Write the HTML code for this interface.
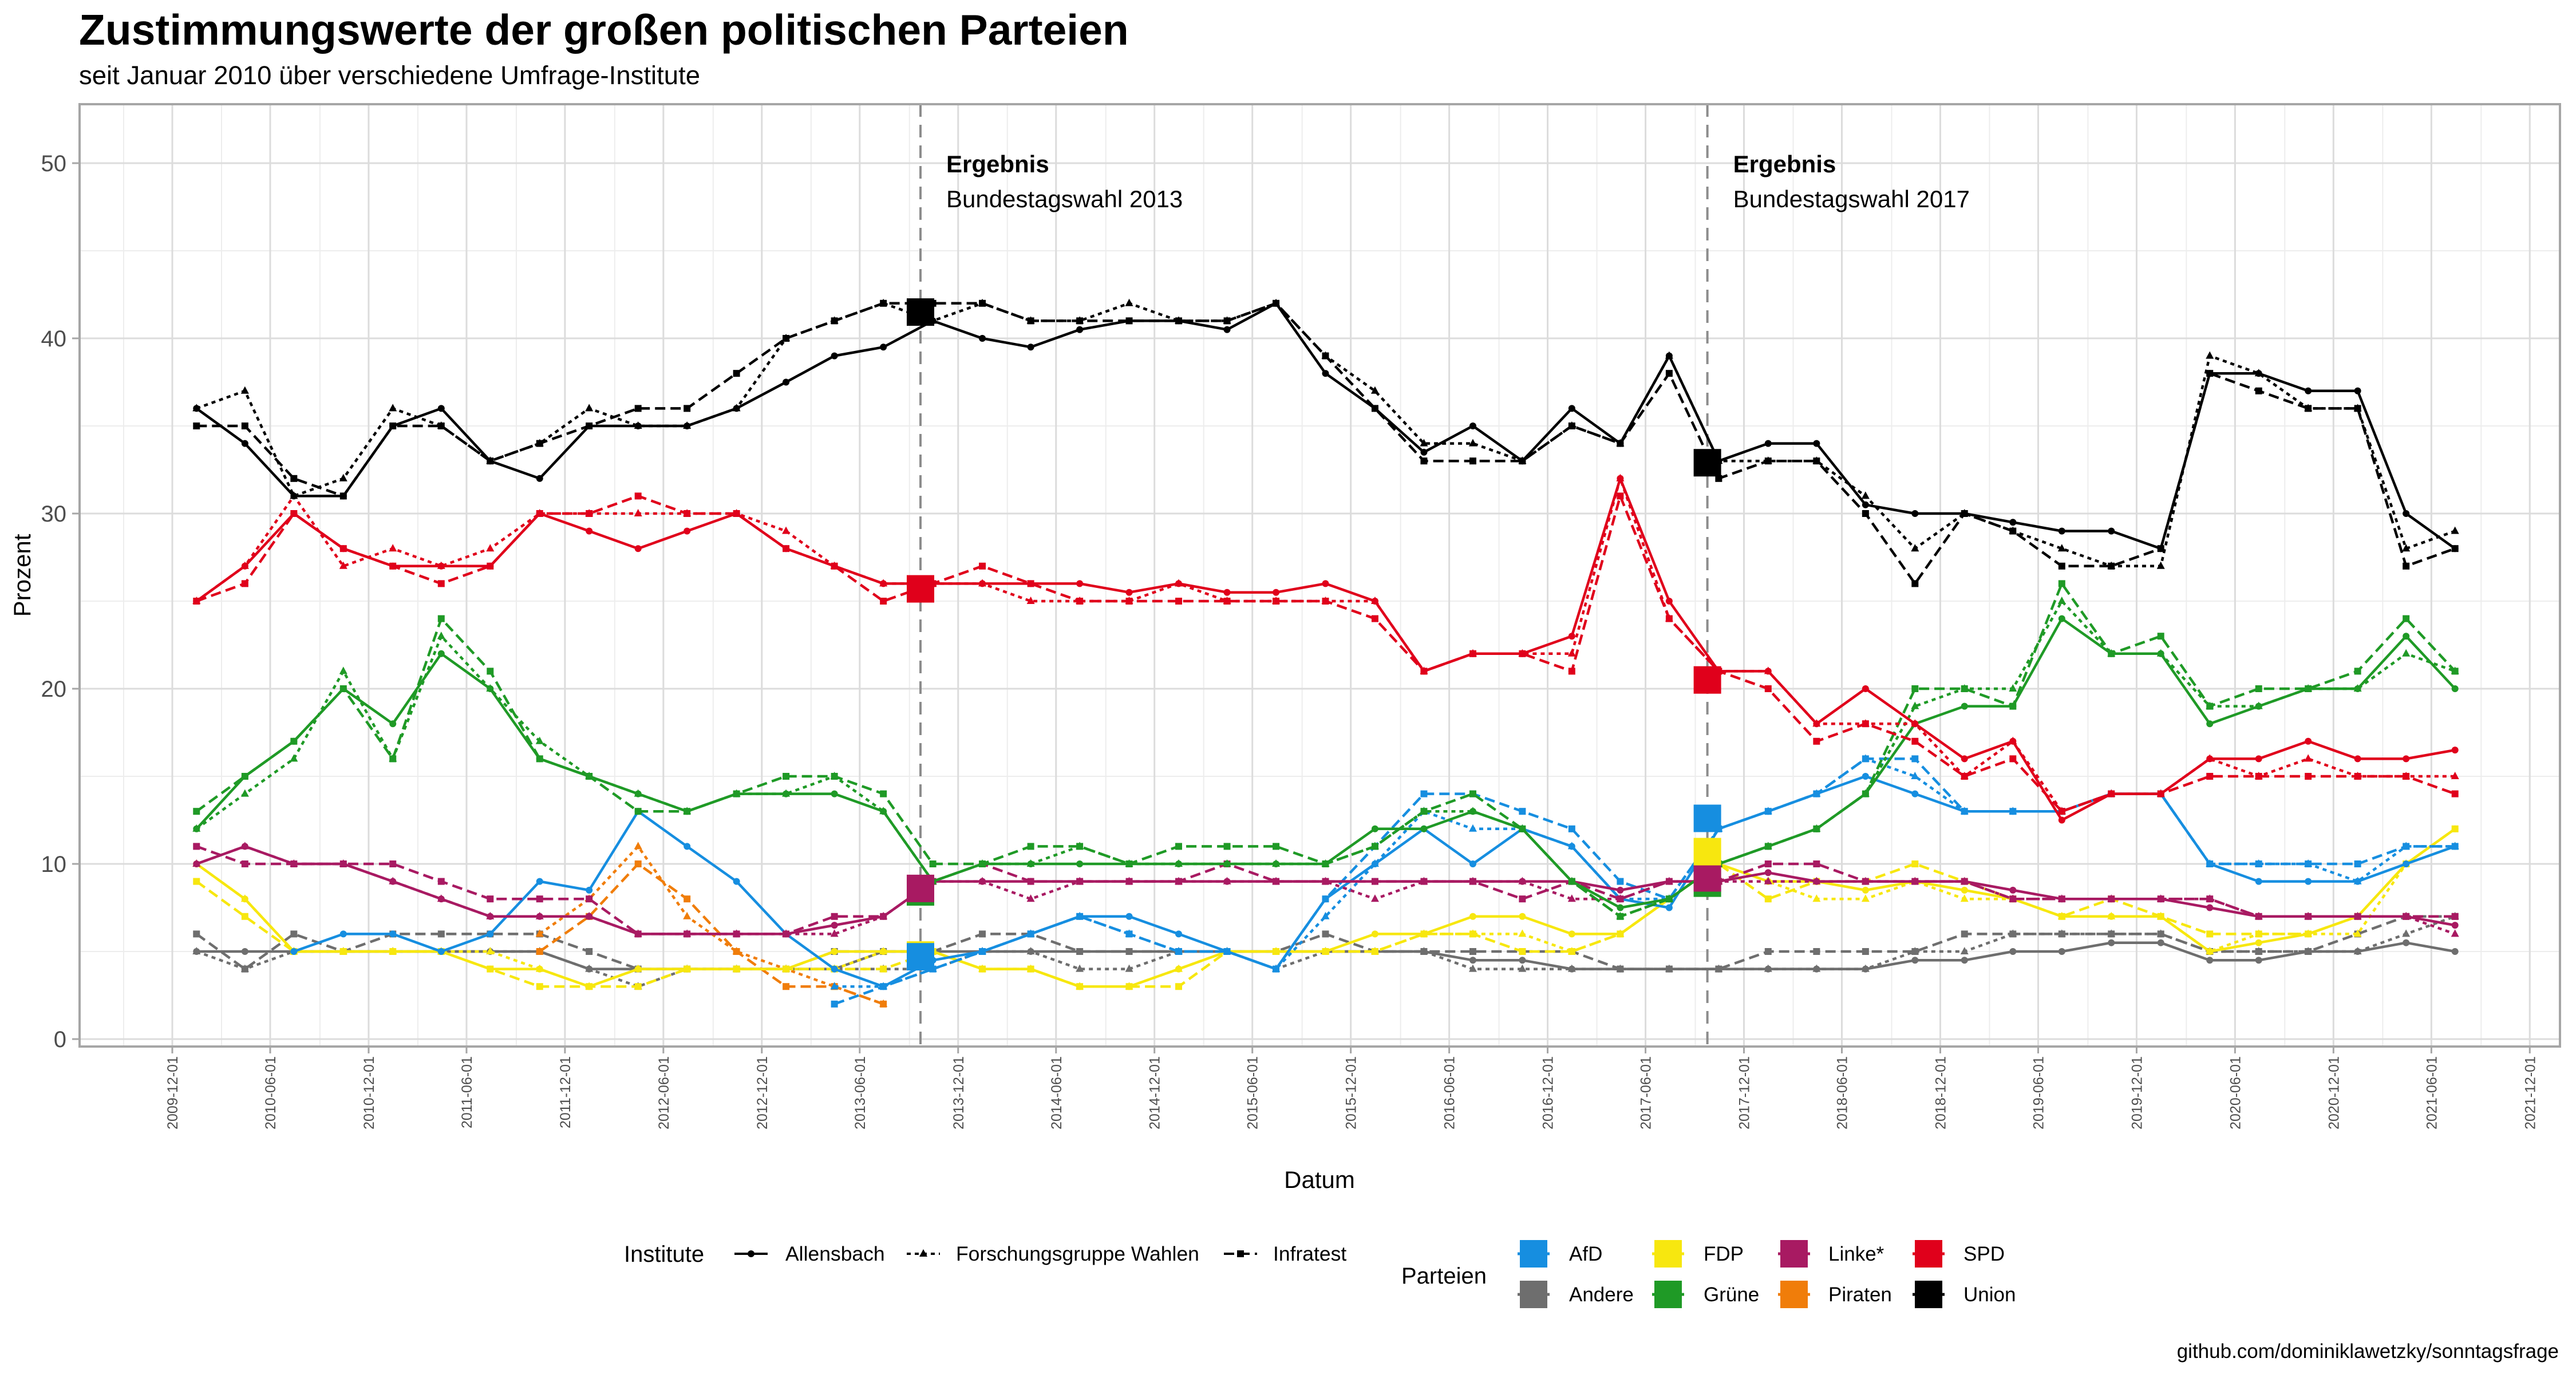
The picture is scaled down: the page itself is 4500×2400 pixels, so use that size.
<!DOCTYPE html>
<html><head><meta charset="utf-8"><style>
html,body{margin:0;padding:0;background:#fff}
svg{display:block;font-family:"Liberation Sans",Arial,sans-serif}
</style></head><body>
<svg id="chart" width="4500" height="2400" viewBox="0 0 4500 2400" xmlns="http://www.w3.org/2000/svg">
<text x="138" y="78" font-size="75" font-weight="bold">Zustimmungswerte der großen politischen Parteien</text>
<text x="138" y="147" font-size="45.5">seit Januar 2010 über verschiedene Umfrage-Institute</text>
<g id="grid"></g>
<g id="series"></g>
<g id="axes"></g>
<text x="2305" y="2075" font-size="42" text-anchor="middle">Datum</text>
<text x="0" y="0" font-size="42" text-anchor="middle" transform="translate(53,1005) rotate(-90)">Prozent</text>
<text x="4470" y="2372" font-size="35" text-anchor="end">github.com/dominiklawetzky/sonntagsfrage</text>
<g id="legend"></g>
</svg>
<script>
const NS="http://www.w3.org/2000/svg";
// ---- data (quarterly, 2010-01 .. 2021-07) ----
const parties=["Andere","Piraten","FDP","Linke","Grüne","AfD","SPD","Union"];
const institutes=["Allensbach","Forschungsgruppe Wahlen","Infratest"];
const unionA=[36,34,31,31, 35,36,33,32, 35,35,35,36, 37.5,39,39.5,41, 40,39.5,40.5,41, 41,40.5,42,38, 36,33.5,35,33, 36,34,39,33, 34,34,30.5,30, 30,29.5,29,29, 28,38,38,37, 37,30,28];
const unionF=[36,37,31,32, 36,35,33,34, 36,35,35,36, 40,41,42,41, 42,41,41,42, 41,41,42,39, 37,34,34,33, 35,34,39,33, 33,33,31,28, 30,29,28,27, 27,39,38,36, 36,28,29];
const unionI=[35,35,32,31, 35,35,33,34, 35,36,36,38, 40,41,42,42, 42,41,41,41, 41,41,42,39, 36,33,33,33, 35,34,38,32, 33,33,30,26, 30,29,27,27, 28,38,37,36, 36,27,28];
const spdA=[25,27,30,28, 27,27,27,30, 29,28,29,30, 28,27,26,26, 26,26,26,25.5, 26,25.5,25.5,26, 25,21,22,22, 23,32,25,21, 21,18,20,18, 16,17,12.5,14, 14,16,16,17, 16,16,16.5];
const spdF=[25,27,31,27, 28,27,28,30, 30,30,30,30, 29,27,26,26, 26,25,25,25, 26,25,25,25, 25,21,22,22, 22,32,24,21, 21,18,18,18, 15,17,13,14, 14,16,15,16, 15,15,15];
const spdI=[25,26,30,28, 27,26,27,30, 30,31,30,30, 28,27,25,26, 27,26,25,25, 25,25,25,25, 24,21,22,22, 21,31,24,21, 20,17,18,17, 15,16,13,14, 14,15,15,15, 15,15,14];
const grueneA=[12,15,17,20, 18,22,20,16, 15,14,13,14, 14,14,13,9, 10,10,10,10, 10,10,10,10, 12,12,13,12, 9,7.5,8,10, 11,12,14,18, 19,19,24,22, 22,18,19,20, 20,23,20];
const grueneF=[12,14,16,21, 16,23,20,17, 15,14,13,14, 14,15,13,9, 10,10,11,10, 10,10,10,10, 11,13,13,12, 9,7,8,10, 11,12,14,19, 20,20,25,22, 22,19,19,20, 20,22,21];
const grueneI=[13,15,17,20, 16,24,21,16, 15,13,13,14, 15,15,14,10, 10,11,11,10, 11,11,11,10, 11,13,14,12, 9,7,8,10, 11,12,14,20, 20,19,26,22, 23,19,20,20, 21,24,21];
const linkeA=[10,11,10,10, 9,8,7,7, 7,6,6,6, 6,6.5,7,9, 9,9,9,9, 9,9,9,9, 9,9,9,9, 9,8.5,9,9, 9.5,9,9,9, 9,8.5,8,8, 8,7.5,7,7, 7,7,6.5];
const linkeF=[10,11,10,10, 9,8,7,7, 7,6,6,6, 6,6,7,9, 9,8,9,9, 9,9,9,9, 8,9,9,9, 8,8,9,9, 9,9,9,9, 9,8,8,8, 8,8,7,7, 7,7,6];
const linkeI=[11,10,10,10, 10,9,8,8, 8,6,6,6, 6,7,7,9, 10,9,9,9, 9,10,9,9, 9,9,9,8, 9,8,9,9, 10,10,9,9, 9,8,8,8, 8,8,7,7, 7,7,7];
const fdpA=[10,8,5,5, 5,5,4,4, 3,4,4,4, 4,5,5,5, 4,4,3,3, 4,5,5,5, 6,6,7,7, 6,6,8,10, 9,9,8.5,9, 8.5,8,7,7, 7,5,5.5,6, 7,10,12];
const fdpF=[10,8,5,5, 5,5,5,4, 3,4,4,4, 4,4,5,5, 4,4,3,3, 4,5,5,5, 5,6,6,6, 5,6,8,10, 9,8,8,9, 8,8,7,7, 7,5,6,6, 6,10,11];
const fdpI=[9,7,5,5, 5,5,4,3, 3,3,4,4, 4,4,4,5, 4,4,3,3, 3,5,5,5, 5,6,6,5, 5,6,8,10, 8,9,9,10, 9,8,7,8, 7,6,6,6, 7,10,12];
const andereA=[5,5,5,5, 5,5,5,5, 4,4,4,4, 4,4,5,5, 5,5,5,5, 5,5,5,5, 5,5,4.5,4.5, 4,4,4,4, 4,4,4,4.5, 4.5,5,5,5.5, 5.5,4.5,4.5,5, 5,5.5,5];
const andereF=[5,4,5,5, 5,5,5,5, 4,3,4,4, 4,4,4,4, 5,5,4,4, 5,5,4,5, 5,5,4,4, 4,4,4,4, 4,4,4,5, 5,6,6,6, 6,5,5,5, 5,6,7];
const andereI=[6,4,6,5, 6,6,6,6, 5,4,4,4, 4,5,5,5, 6,6,5,5, 5,5,5,6, 5,5,5,5, 5,4,4,4, 5,5,5,5, 6,6,6,6, 6,5,5,5, 6,7,7];
const afdA=[null,null,5,6, 6,5,6,9, 8.5,13,11,9, 6,4,3,4.5, 5,6,7,7, 6,5,4,8, 10,12,10,12, 11,8,7.5,12, 13,14,15,14, 13,13,13,14, 14,10,9,9, 9,10,11];
const afdF=[null,null,null,null, null,null,null,null, null,null,null,null, null,3,3,4, 5,6,7,6, 5,5,4,7, 10,13,12,12, 11,8,8,12, 13,14,16,15, 13,13,13,14, 14,10,10,10, 9,11,11];
const afdI=[null,null,null,null, null,null,null,null, null,null,null,null, null,2,3,4, 5,6,7,6, 5,5,4,8, 11,14,14,13, 12,9,8,12, 13,14,16,16, 13,13,13,14, 14,10,10,10, 10,11,11];
const piratenA=[null,null,null,null, null,null,null,null, null,null,null,null, null,null,null,null, null,null,null,null, null,null,null,null, null,null,null,null, null,null,null,null, null,null,null,null, null,null,null,null, null,null,null,null, null,null,null];
const piratenF=[null,null,null,null, null,null,null,6, 8,11,7,5, 4,3,2,null, null,null,null,null, null,null,null,null, null,null,null,null, null,null,null,null, null,null,null,null, null,null,null,null, null,null,null,null, null,null,null];
const piratenI=[null,null,null,null, null,null,null,5, 7,10,8,5, 3,3,2,null, null,null,null,null, null,null,null,null, null,null,null,null, null,null,null,null, null,null,null,null, null,null,null,null, null,null,null,null, null,null,null];
const electionDates=["2013-09-22","2017-09-24"];
const election2013=[41.5,25.7,8.4,8.6,4.8,4.7];
const election2017=[32.9,20.5,8.9,9.2,10.7,12.6];
const electionParties=["Union","SPD","Grüne","Linke","FDP","AfD"];
const yTicks=[0,10,20,30,40,50];
const xTickLabels=["2009-12-01","2010-06-01","2010-12-01","2011-06-01","2011-12-01","2012-06-01","2012-12-01","2013-06-01","2013-12-01","2014-06-01","2014-12-01","2015-06-01","2015-12-01","2016-06-01","2016-12-01","2017-06-01","2017-12-01","2018-06-01","2018-12-01","2019-06-01","2019-12-01","2020-06-01","2020-12-01","2021-06-01","2021-12-01"];

const colors={AfD:"#168ee0",Andere:"#6e6e6e",FDP:"#f7e70f",Linke:"#a81a62",Grüne:"#1f9a26",Piraten:"#f07d0a",SPD:"#e0001b",Union:"#000000"};
const seriesData={
 Union:[unionA,unionF,unionI],SPD:[spdA,spdF,spdI],Grüne:[grueneA,grueneF,grueneI],Linke:[linkeA,linkeF,linkeI],
 FDP:[fdpA,fdpF,fdpI],Andere:[andereA,andereF,andereI],AfD:[afdA,afdF,afdI],Piraten:[piratenA,piratenF,piratenI]};

// ---- scales ----
const PL=139,PR=4472,PT=182,PB=1828;
const T0=Date.UTC(2009,11,1);
function xDate(d){return 301+((d-T0)/86400000)*0.9396;}
function xStr(s){const p=s.split("-");return xDate(Date.UTC(+p[0],+p[1]-1,+p[2]));}
function xIdx(i){return xDate(Date.UTC(2010,3*i,15));}
function y(v){return 1815-v*30.6;}
function el(tag,attrs,parent){const e=document.createElementNS(NS,tag);for(const k in attrs)e.setAttribute(k,attrs[k]);parent.appendChild(e);return e;}

// ---- grid ----
const grid=document.getElementById("grid");
el("rect",{x:PL,y:PT,width:PR-PL,height:PB-PT,fill:"#fff"},grid);
for(let v=5;v<=50;v+=10){const l=el("line",{x1:PL,x2:PR,y1:y(v),y2:y(v),stroke:"#ededed","stroke-width":2},grid);

}
xTickLabels.forEach((s,i)=>{const x=xStr(s)-85;if(x>PL){const l=el("line",{x1:x,x2:x,y1:PT,y2:PB,stroke:"#ededed","stroke-width":2},grid);

}});
el("line",{x1:xStr("2021-12-01")+85,x2:xStr("2021-12-01")+85,y1:PT,y2:PB,stroke:"#ededed","stroke-width":2},grid);
yTicks.forEach(v=>{const l=el("line",{x1:PL,x2:PR,y1:y(v),y2:y(v),stroke:"#dcdcdc","stroke-width":3},grid);

});
xTickLabels.forEach(s=>{const x=xStr(s);const l=el("line",{x1:x,x2:x,y1:PT,y2:PB,stroke:"#dcdcdc","stroke-width":3},grid);

});
electionDates.forEach(s=>{const x=xStr(s);const l=el("line",{x1:x,x2:x,y1:PT,y2:PB,stroke:"#8c8c8c","stroke-width":4,"stroke-dasharray":"22,14"},grid);

});

// ---- series ----
const sg=document.getElementById("series");
const dashes=["","7,7","18,9"];
const order=["Andere","Piraten","FDP","AfD","Linke","Grüne","SPD","Union"];
order.forEach(p=>{seriesData[p].forEach((arr,k)=>{
 const g=el("g",{},sg);
 
 
 let d="",pen=false;
 arr.forEach((v,i)=>{if(v===null){pen=false;return;}d+=(pen?"L":"M")+xIdx(i).toFixed(1)+" "+y(v).toFixed(1);pen=true;});
 if(d)el("path",{d:d,fill:"none",stroke:colors[p],"stroke-width":4.5,"stroke-dasharray":dashes[k],"stroke-linejoin":"round"},g);
 arr.forEach((v,i)=>{if(v===null)return;const cx=xIdx(i),cy=y(v);let m;
  if(k===0)m=el("circle",{cx:cx,cy:cy,r:6,fill:colors[p]},g);
  else if(k===1)m=el("path",{d:`M${cx} ${cy-8}L${cx+7} ${cy+5}L${cx-7} ${cy+5}Z`,fill:colors[p]},g);
  else m=el("rect",{x:cx-6,y:cy-6,width:12,height:12,fill:colors[p]},g);
  
  });
});});
[election2013,election2017].forEach((vals,j)=>{const x=xStr(electionDates[j]);vals.forEach((v,i)=>{
 const r=el("rect",{x:x-24,y:y(v)-24,width:48,height:48,fill:colors[electionParties[i]]},sg);
 
 });});
[["2013",xStr(electionDates[0])],["2017",xStr(electionDates[1])]].forEach(([yr,x])=>{
 const t1=el("text",{x:x+45,y:301,"font-size":42,"font-weight":"bold"},sg);t1.textContent="Ergebnis";
 
 
 const t2=el("text",{x:x+45,y:362,"font-size":42},sg);t2.textContent="Bundestagswahl "+yr;
 
 });

// ---- axes ----
const ax=document.getElementById("axes");
el("rect",{x:PL,y:PT,width:PR-PL,height:PB-PT,fill:"none",stroke:"#a6a6a6","stroke-width":4},ax);
yTicks.forEach(v=>{el("line",{x1:126,x2:PL,y1:y(v),y2:y(v),stroke:"#a6a6a6","stroke-width":3},ax);
 const t=el("text",{x:116,y:y(v)+14,"font-size":40,"text-anchor":"end",fill:"#4d4d4d"},ax);t.textContent=v;
 
 });
xTickLabels.forEach(s=>{const x=xStr(s);el("line",{x1:x,x2:x,y1:PB,y2:PB+12,stroke:"#a6a6a6","stroke-width":3},ax);
 const t=el("text",{x:0,y:0,"font-size":25,"text-anchor":"end",fill:"#4d4d4d",transform:`translate(${x+9},1845) rotate(-90)`},ax);t.textContent=s;
 
 });

// ---- legend ----
const lg=document.getElementById("legend");
const it=el("text",{x:1090,y:2204,"font-size":40},lg);it.textContent="Institute";


const instKeyX=[1283,1584,2138],instTextX=[1372,1670,2224];
institutes.forEach((n,k)=>{const g=el("g",{},lg);
 
 
 el("line",{x1:instKeyX[k],x2:instKeyX[k]+58,y1:2190,y2:2190,stroke:"#000","stroke-width":4,"stroke-dasharray":dashes[k]},g);
 const cx=instKeyX[k]+29;
 if(k===0)el("circle",{cx:cx,cy:2190,r:6},g);else if(k===1)el("path",{d:`M${cx} 2182L${cx+7} 2195L${cx-7} 2195Z`},g);else el("rect",{x:cx-6,y:2184,width:12,height:12},g);
 const t=el("text",{x:instTextX[k],y:2202,"font-size":35.5},g);t.textContent=n;});
const pt=el("text",{x:2448,y:2242,"font-size":40},lg);pt.textContent="Parteien";


const legendParties=[["AfD","FDP","Linke*","SPD"],["Andere","Grüne","Piraten","Union"]];
const keyX=[2655,2890,3110,3345],textX=[2741,2976,3194,3430],rowY=[2190,2261];
legendParties.forEach((row,r)=>row.forEach((n,c)=>{const g=el("g",{},lg);
 
 
 const col=colors[n.replace("*","")];
 el("rect",{x:keyX[c],y:rowY[r]-24,width:48,height:48,fill:col},g);
 el("line",{x1:keyX[c]-4,x2:keyX[c]+52,y1:rowY[r],y2:rowY[r],stroke:col,"stroke-width":5},g);
 const t=el("text",{x:textX[c],y:rowY[r]+12,"font-size":35},g);t.textContent=n;}));
</script>
</body></html>
